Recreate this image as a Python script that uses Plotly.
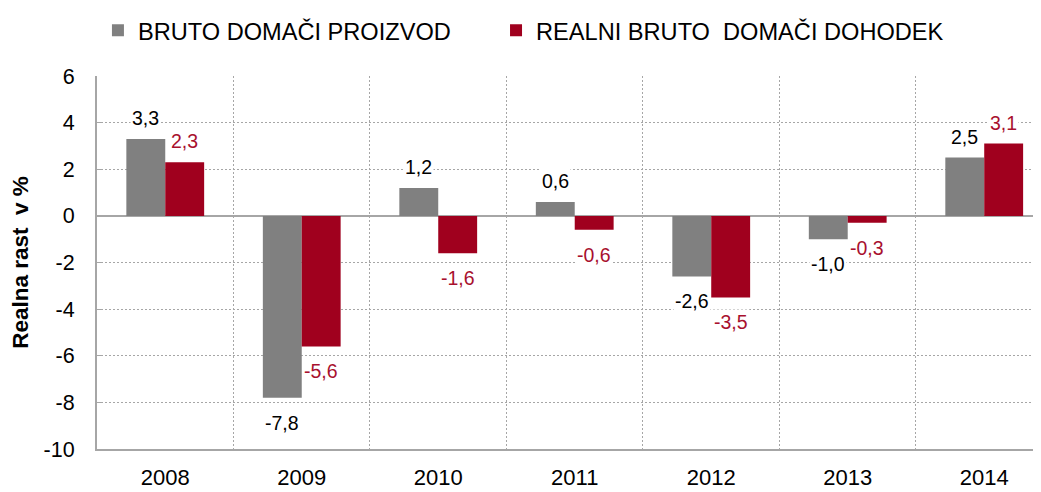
import plotly.graph_objects as go

years = ["2008", "2009", "2010", "2011", "2012", "2013", "2014"]
bdp = [3.3, -7.8, 1.2, 0.6, -2.6, -1.0, 2.5]
rbdd = [2.3, -5.6, -1.6, -0.6, -3.5, -0.3, 3.1]
series_names = ["BRUTO DOMAČI PROIZVOD", "REALNI BRUTO  DOMAČI DOHODEK"]
y_ticks = [-10, -8, -6, -4, -2, 0, 2, 4, 6]
y_tick_labels = ["-10", "-8", "-6", "-4", "-2", "0", "2", "4", "6"]

GRAY = "#808080"
RED = "#A0001E"
RED_TEXT = "#A8102E"
GRID = "#A6A6A6"
FONT = "Arial, Liberation Sans, sans-serif"
BARGAP = 0.43

fig = go.Figure()
fig.add_trace(go.Bar(x=years, y=bdp, name=series_names[0], marker_color=GRAY,
                     marker_line_width=0, legend="legend"))
fig.add_trace(go.Bar(x=years, y=rbdd, name=series_names[1], marker_color=RED,
                     marker_line_width=0, legend="legend2"))

off = (1 - BARGAP) / 4
for series, sign, col in ((bdp, -1, "black"), (rbdd, 1, RED_TEXT)):
    for i, v in enumerate(series):
        fig.add_annotation(
            x=i + sign * off, y=v, xref="x", yref="y",
            text=f"{v:.1f}".replace(".", ","),
            showarrow=False,
            yanchor="bottom" if v >= 0 else "top",
            yshift=8 if v >= 0 else -12,
            bgcolor="white", borderpad=1,
            font=dict(size=19.5, color=col, family=FONT),
        )

legend_common = dict(orientation="h", xanchor="left", y=1.122, yanchor="middle",
                     font=dict(size=23.6, family=FONT), itemwidth=30,
                     bgcolor="rgba(0,0,0,0)")

fig.update_layout(
    width=1033, height=484,
    margin=dict(l=89, r=0, t=65, b=43),
    paper_bgcolor="white", plot_bgcolor="white",
    barmode="group", bargap=BARGAP, bargroupgap=0,
    font=dict(family=FONT, color="black"),
    showlegend=True,
    legend=dict(x=0.001, **legend_common),
    legend2=dict(x=0.4227, **legend_common),
    xaxis=dict(
        type="category", range=[-0.5, 6.416], tickson="boundaries",
        showgrid=True, gridcolor=GRID, griddash="2px,2px", gridwidth=1,
        ticks="", showline=True, linecolor=GRID, linewidth=2,
        tickfont=dict(size=22, family=FONT), ticklabelstandoff=8,
        automargin=False, fixedrange=True,
    ),
    yaxis=dict(
        range=[-10, 6], tickvals=y_ticks, ticktext=y_tick_labels,
        showgrid=True, gridcolor=GRID, griddash="2px,2px", gridwidth=1,
        zeroline=True, zerolinecolor=GRID, zerolinewidth=2,
        showline=True, linecolor=GRID, linewidth=2,
        ticks="inside", ticklen=4, tickcolor=GRID,
        tickfont=dict(size=21.5, family=FONT), ticklabelstandoff=16,
        title=dict(text="<b>Realna rast  v %</b>", font=dict(size=22.5, family=FONT),
                   standoff=9),
        automargin=False,
    ),
)

fig.write_html("out.html")
